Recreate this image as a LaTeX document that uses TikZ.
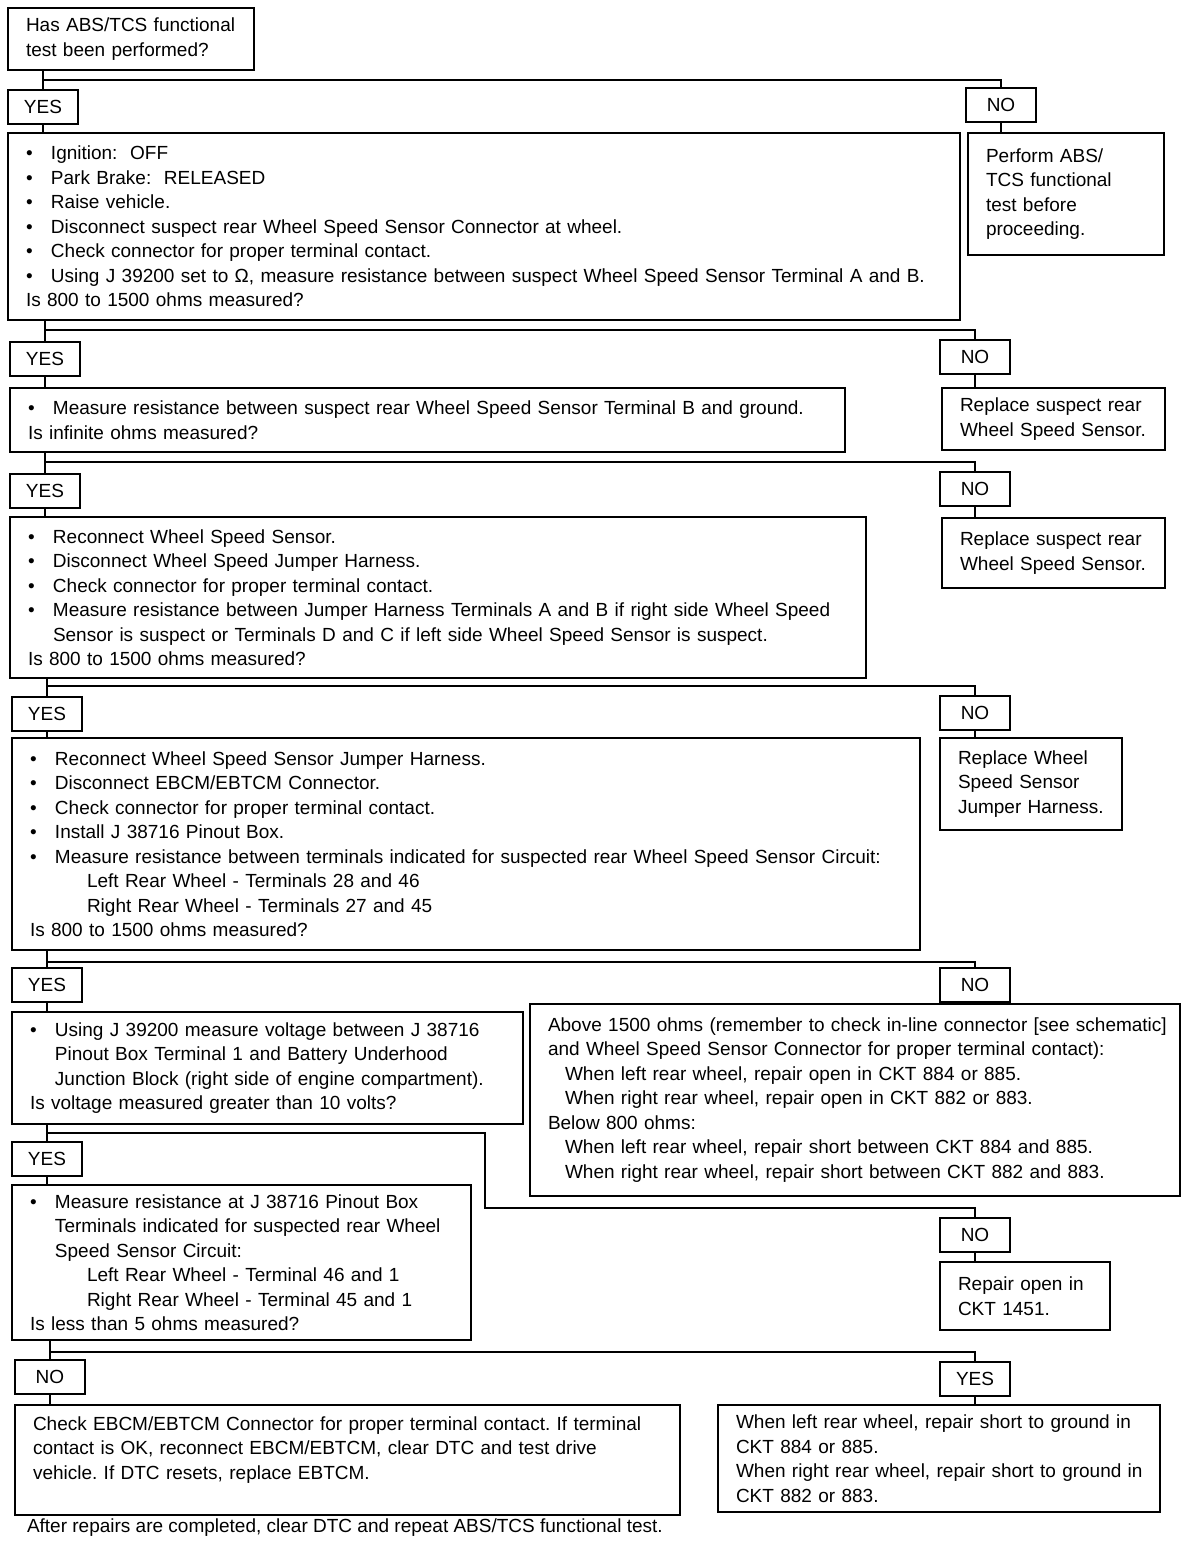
\documentclass[tikz,border=0pt]{standalone}
\usepackage{fontspec}
\setmainfont{Liberation Sans}
\frenchspacing
\newcommand\fs{\fontsize{9.5pt}{12.25pt}\selectfont}
\newcommand\bl{\makebox[12.5pt][l]{\textbullet}}
\newcommand\cont{\hspace*{12.5pt}}
\newcommand\subln{\hspace*{28.5pt}}
\newcommand\ind{\hspace*{8.5pt}}

\begin{document}
\begin{tikzpicture}[x=0.5pt, y=-0.5pt, outer sep=0pt,
    stepbox/.style={draw, line width=1pt, anchor=north west, align=left, inner xsep=9pt, inner ysep=2pt, font=\fs},
    ansbox/.style={draw, line width=1pt, anchor=north west, minimum width=35pt, minimum height=17pt, inner sep=0pt, font=\fs},
    link/.style={line width=1.2pt}]
    \fill[white] (0,0) rectangle (1200,1546);
    \useasboundingbox (0,0) rectangle (1200,1546);

    % question and first answer
    \node (q1) [stepbox, text width=105pt, minimum height=31pt] at (8,8) {Has ABS/TCS functional\\test been performed?};
    \node (yes1) [ansbox] at (8,90) {YES};
    \node (no1) [ansbox] at (966,88) {NO};

    \node (b1) [stepbox, text width=458pt, minimum height=93.5pt] at (8,133) {
        \bl Ignition:~ OFF\\
        \bl Park Brake:~ RELEASED\\
        \bl Raise vehicle.\\
        \bl Disconnect suspect rear Wheel Speed Sensor Connector at wheel.\\
        \bl Check connector for proper terminal contact.\\
        \bl Using J 39200 set to Ω, measure resistance between suspect Wheel Speed Sensor Terminal A and B.\\
        Is 800 to 1500 ohms measured?
    };
    \node (r1) [stepbox, text width=80pt, minimum height=61pt] at (968,133) {Perform ABS/\\TCS functional\\test before\\proceeding.};

    \node (yes2) [ansbox] at (10,342) {YES};
    \node (no2) [ansbox] at (940,340) {NO};
    \node (b2) [stepbox, text width=399.5pt, minimum height=32pt] at (10,388) {
        \bl Measure resistance between suspect rear Wheel Speed Sensor Terminal B and ground.\\
        Is infinite ohms measured?
    };
    \node (r2) [stepbox, text width=93.5pt, minimum height=31pt] at (942,388) {Replace suspect rear\\Wheel Speed Sensor.};

    \node (yes3) [ansbox] at (10,474) {YES};
    \node (no3) [ansbox] at (940,472) {NO};
    \node (b3) [stepbox, text width=410pt, minimum height=80.5pt] at (10,517) {
        \bl Reconnect Wheel Speed Sensor.\\
        \bl Disconnect Wheel Speed Jumper Harness.\\
        \bl Check connector for proper terminal contact.\\
        \bl Measure resistance between Jumper Harness Terminals A and B if right side Wheel Speed\\
        \cont Sensor is suspect or Terminals D and C if left side Wheel Speed Sensor is suspect.\\
        Is 800 to 1500 ohms measured?
    };
    \node (r3) [stepbox, text width=93.5pt, minimum height=35pt] at (942,518) {Replace suspect rear\\Wheel Speed Sensor.};

    \node (yes4) [ansbox] at (12,697) {YES};
    \node (no4) [ansbox] at (940,696) {NO};
    \node (b4) [stepbox, text width=436pt, minimum height=106pt] at (12,738) {
        \bl Reconnect Wheel Speed Sensor Jumper Harness.\\
        \bl Disconnect EBCM/EBTCM Connector.\\
        \bl Check connector for proper terminal contact.\\
        \bl Install J 38716 Pinout Box.\\
        \bl Measure resistance between terminals indicated for suspected rear Wheel Speed Sensor Circuit:\\
        \subln Left Rear Wheel - Terminals 28 and 46\\
        \subln Right Rear Wheel - Terminals 27 and 45\\
        Is 800 to 1500 ohms measured?
    };
    \node (r4) [stepbox, text width=73pt, minimum height=46pt] at (940,738) {Replace Wheel\\Speed Sensor\\Jumper Harness.};

    \node (yes5) [ansbox] at (12,968) {YES};
    \node (no5) [ansbox] at (940,968) {NO};
    \node (b5) [stepbox, text width=237.5pt, minimum height=56pt] at (12,1012) {
        \bl Using J 39200 measure voltage between J 38716\\
        \cont Pinout Box Terminal 1 and Battery Underhood\\
        \cont Junction Block (right side of engine compartment).\\
        Is voltage measured greater than 10 volts?
    };
    \node (r5) [stepbox, text width=307pt, minimum height=96pt] at (530,1004) {
        \mbox{Above 1500 ohms (remember to check in-line connector [see schematic]}\\
        and Wheel Speed Sensor Connector for proper terminal contact):\\
        \ind When left rear wheel, repair open in CKT 884 or 885.\\
        \ind When right rear wheel, repair open in CKT 882 or 883.\\
        Below 800 ohms:\\
        \ind When left rear wheel, repair short between CKT 884 and 885.\\
        \ind When right rear wheel, repair short between CKT 882 and 883.
    };

    \node (yes6) [ansbox] at (12,1142) {YES};
    \node (no6) [ansbox] at (940,1218) {NO};
    \node (b6) [stepbox, text width=211.5pt, minimum height=77.5pt] at (12,1185) {
        \bl Measure resistance at J 38716 Pinout Box\\
        \cont Terminals indicated for suspected rear Wheel\\
        \cont Speed Sensor Circuit:\\
        \subln Left Rear Wheel - Terminal 46 and 1\\
        \subln Right Rear Wheel - Terminal 45 and 1\\
        Is less than 5 ohms measured?
    };
    \node (r6) [stepbox, text width=67pt, minimum height=34pt] at (940,1262) {Repair open in\\CKT 1451.};

    \node (no7) [ansbox] at (15,1360) {NO};
    \node (yes7) [ansbox] at (940,1362) {YES};
    \node (b7) [stepbox, text width=314.5pt, minimum height=55pt] at (15,1405) {
        Check EBCM/EBTCM Connector for proper terminal contact. If terminal\\
        contact is OK, reconnect EBCM/EBTCM, clear DTC and test drive\\
        vehicle. If DTC resets, replace EBTCM.\\ \mbox{}
    };
    \node (r7) [stepbox, text width=203pt, minimum height=53.5pt] at (718,1405) {
        \mbox{When left rear wheel, repair short to ground in}\\
        CKT 884 or 885.\\
        \mbox{When right rear wheel, repair short to ground in}\\
        CKT 882 or 883.
    };
    \node (footer) [anchor=base west, font=\fs, inner sep=0pt] at (27,1532) {After repairs are completed, clear DTC and repeat ABS/TCS functional test.};

    % junctions
    \coordinate (j1) at (0,80);
    \coordinate (j2) at (0,330);
    \coordinate (j3) at (0,462);
    \coordinate (j4) at (0,686);
    \coordinate (j5) at (0,962);
    \coordinate (j6a) at (485,1133);
    \coordinate (j6b) at (485,1208);
    \coordinate (j7) at (0,1352);

    % connectors
    \draw[link] (q1.south -| yes1.north) -- (yes1.north);
    \draw[link] (yes1.north |- j1) -| (no1.north);
    \draw[link] (yes1.south) -- (yes1.south |- b1.north);
    \draw[link] (no1.south) -- (no1.south |- r1.north);

    \draw[link] (b1.south -| yes2.north) -- (yes2.north);
    \draw[link] (yes2.north |- j2) -| (no2.north);
    \draw[link] (yes2.south) -- (yes2.south |- b2.north);
    \draw[link] (no2.south) -- (no2.south |- r2.north);

    \draw[link] (b2.south -| yes3.north) -- (yes3.north);
    \draw[link] (yes3.north |- j3) -| (no3.north);
    \draw[link] (yes3.south) -- (yes3.south |- b3.north);
    \draw[link] (no3.south) -- (no3.south |- r3.north);

    \draw[link] (b3.south -| yes4.north) -- (yes4.north);
    \draw[link] (yes4.north |- j4) -| (no4.north);
    \draw[link] (yes4.south) -- (yes4.south |- b4.north);
    \draw[link] (no4.south) -- (no4.south |- r4.north);

    \draw[link] (b4.south -| yes5.north) -- (yes5.north);
    \draw[link] (yes5.north |- j5) -| (no5.north);
    \draw[link] (yes5.south) -- (yes5.south |- b5.north);
    \draw[link] (no5.south) -- (no5.south |- r5.north);

    \draw[link] (b5.south -| yes6.north) -- (yes6.north);
    \draw[link] (yes6.north |- j6a) -- (j6a) -- (j6b) -| (no6.north);
    \draw[link] (yes6.south) -- (yes6.south |- b6.north);
    \draw[link] (no6.south) -- (no6.south |- r6.north);

    \draw[link] (b6.south -| no7.north) -- (no7.north);
    \draw[link] (no7.north |- j7) -| (yes7.north);
    \draw[link] (no7.south) -- (no7.south |- b7.north);
    \draw[link] (yes7.south) -- (yes7.south |- r7.north);
\end{tikzpicture}
\end{document}
